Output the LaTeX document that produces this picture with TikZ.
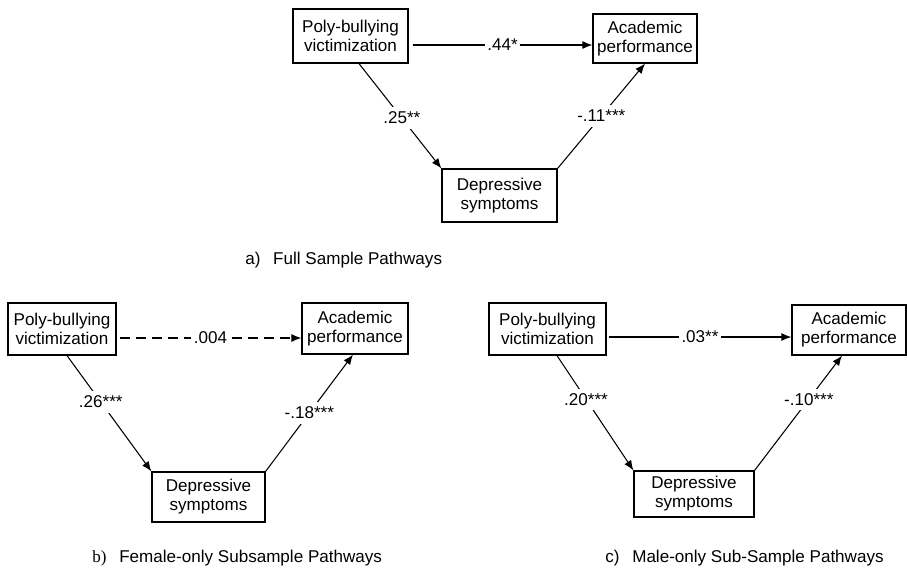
\documentclass[tikz,border=0pt]{standalone}
\usepackage{fontspec}
\setmainfont{Liberation Sans}
\newfontfamily\serifb{Liberation Serif}
\usetikzlibrary{arrows.meta,calc}
\begin{document}
\begin{tikzpicture}[x=0.75pt,y=-0.75pt,
  txt/.style={font=\fontsize{12.8}{14.3}\selectfont},
  box/.style={draw,line width=0.9pt,align=center,inner sep=0pt,txt},
  sz/.style 2 args={minimum width={#1*0.75pt},minimum height={#2*0.75pt}},
  arr/.style={line width=0.8pt,-{Latex[length=7.5pt,width=6pt]}},
  dsh/.style={dash pattern=on 8pt off 4pt},
  lab/.style={fill=white,inner xsep=2pt,inner ysep=3.5pt,txt},
  captxt/.style={anchor=west,inner sep=0pt,txt}]
\useasboundingbox (0,0) rectangle (907,569);

% (a) full sample
\node[box,sz={115}{54}] (P1) at (350.5,36) {Poly-bullying\\victimization};
\node[box,sz={104}{49}] (A1) at (645,38.5) {Academic\\performance};
\node[box,sz={115}{53}] (D1) at (499.5,195.5) {Depressive\\symptoms};
\coordinate (h1) at ($(P1.east)+(4,9)$);
\draw[arr] (h1) -- (h1 -| A1.west) node[lab,midway] {.44*};
\draw[arr] ($(P1.south)+(8.5,0)$) -- (D1.north west) node[lab,pos=0.52] {.25**};
\draw[arr] (D1.north east) -- (A1.south) node[lab,pos=0.5] {-.11***};
\node[captxt] (ca) at (245,260) {a)\hspace{0.75em}Full Sample Pathways};

% (b) female
\node[box,sz={108}{52}] (P2) at (62,329) {Poly-bullying\\victimization};
\node[box,sz={106}{51}] (A2) at (355,328.5) {Academic\\performance};
\node[box,sz={113}{50}] (D2) at (208.5,497) {Depressive\\symptoms};
\coordinate (h2) at ($(P2.east)+(3,9)$);
\draw[arr,dsh] (h2) -- (h2 -| A2.west) node[lab,midway] {.004};
\draw[arr] ($(P2.south)+(5,0)$) -- (D2.north west) node[lab,pos=0.4] {.26***};
\draw[arr] (D2.north east) -- ($(A2.south)+(-2,0)$) node[lab,pos=0.5] {-.18***};
\node[captxt] (cb) at (92,558) {{\serifb b)}\hspace{0.75em}Female-only Subsample Pathways};

% (c) male
\node[box,sz={117}{52}] (P3) at (547.5,329) {Poly-bullying\\victimization};
\node[box,sz={114}{50}] (A3) at (849,330) {Academic\\performance};
\node[box,sz={120}{46}] (D3) at (694,494) {Depressive\\symptoms};
\coordinate (h3) at ($(P3.east)+(2,8)$);
\draw[arr] (h3) -- (h3 -| A3.west) node[lab,midway] {.03**};
\draw[arr] ($(P3.south)+(9.5,0)$) -- (D3.north west) node[lab,pos=0.38] {.20***};
\draw[arr] (D3.north east) -- ($(A3.south)+(-7,0)$) node[lab,pos=0.62] {-.10***};
\node[captxt] (cc) at (605,558) {c)\hspace{0.75em}Male-only Sub-Sample Pathways};
\end{tikzpicture}
\end{document}
